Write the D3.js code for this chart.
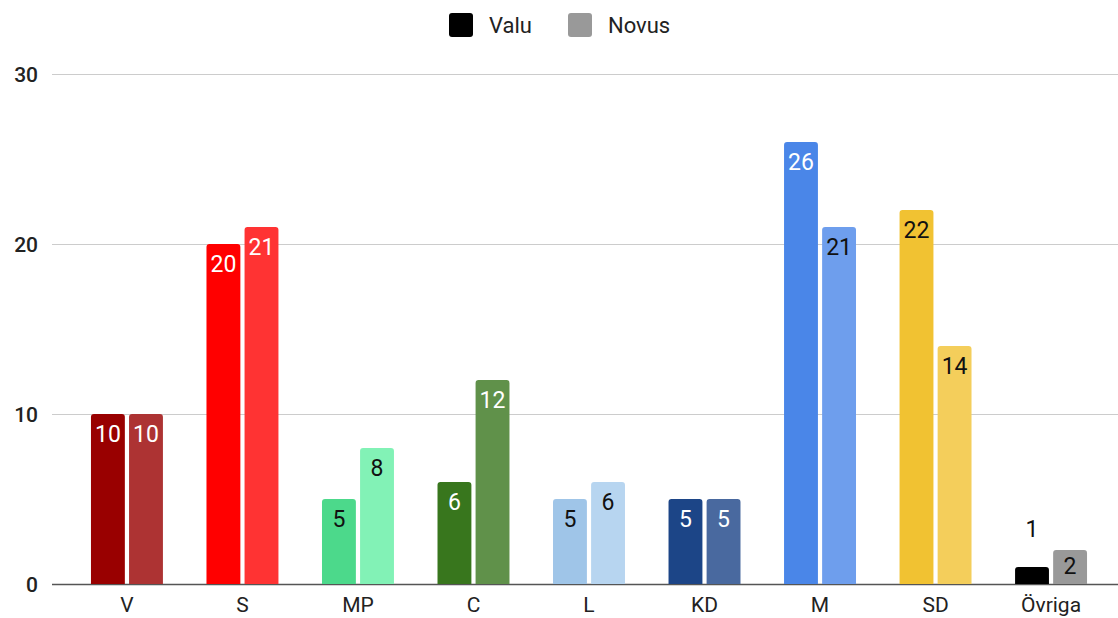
<!DOCTYPE html>
<html>
<head>
<meta charset="utf-8">
<script src="https://cdn.jsdelivr.net/npm/d3@7"></script>
<style>
  body { margin: 0; background: #fff; }
  text { font-family: Roboto, "Liberation Sans", Arial, sans-serif; }
</style>
</head>
<body>
<svg id="chart" width="1118" height="618"></svg>
<script>
// data
var parties = ["V", "S", "MP", "C", "L", "KD", "M", "SD", "Övriga"];
var seriesNames = ["Valu", "Novus"];
var valu  = [10, 20, 5, 6, 5, 5, 26, 22, 1];
var novus = [10, 21, 8, 12, 6, 5, 21, 14, 2];
var yTicks = [0, 10, 20, 30];

// styles
var valuColors  = ["#990000", "#ff0000", "#4cd98b", "#38761d", "#9fc5e8", "#1c4587", "#4a86e8", "#f1c232", "#000000"];
var novusColors = ["#ad3333", "#ff3333", "#82f2b6", "#60914a", "#b7d5f0", "#49699f", "#6e9eed", "#f4ce5b", "#999999"];
var valuText  = ["#fff", "#fff", "#111", "#fff", "#111", "#fff", "#fff", "#111", "#111"];
var novusText = ["#fff", "#fff", "#111", "#fff", "#111", "#fff", "#111", "#111", "#111"];

var svg = d3.select("#chart");

var x = d3.scaleBand()
    .domain(parties)
    .range([69.25, 1108.75])
    .paddingInner(0.377)
    .paddingOuter(0.188);

var x1 = d3.scaleBand()
    .domain(seriesNames)
    .range([0, x.bandwidth()])
    .paddingInner(0.11);

var y = d3.scaleLinear()
    .domain([0, 30])
    .range([584, 74]);

// grid
svg.append("g")
  .selectAll("line")
  .data(yTicks)
  .join("line")
    .attr("x1", 52)
    .attr("x2", 1118)
    .attr("y1", function(d) { return Math.round(y(d)) + 0.5; })
    .attr("y2", function(d) { return Math.round(y(d)) + 0.5; })
    .attr("stroke", function(d) { return d === 0 ? "#555" : "#cccccc"; })
    .attr("stroke-width", function(d) { return d === 0 ? 1.5 : 1.2; });

var yAxis = d3.axisLeft(y).tickValues(yTicks).tickSize(0).tickPadding(0);
var ya = svg.append("g")
    .attr("transform", "translate(38,0)")
    .call(yAxis);
ya.select(".domain").remove();
ya.selectAll("text")
    .attr("font-size", 21)
    .attr("fill", "#222")
    .attr("font-weight", 500)
    .attr("dy", "0.36em");

var xAxis = d3.axisBottom(x).tickSize(0).tickPadding(0);
var xa = svg.append("g")
    .attr("transform", "translate(0,584)")
    .call(xAxis);
xa.select(".domain").remove();
xa.selectAll("text")
    .attr("font-size", 21)
    .attr("fill", "#222")
    .attr("y", 28)
    .attr("dy", 0);

function barPath(x0, w, top, bottom) {
  var r = Math.min(3, (bottom - top) / 2);
  return "M" + x0 + "," + bottom +
    "V" + (top + r) +
    "Q" + x0 + "," + top + " " + (x0 + r) + "," + top +
    "H" + (x0 + w - r) +
    "Q" + (x0 + w) + "," + top + " " + (x0 + w) + "," + (top + r) +
    "V" + bottom + "Z";
}

var rows = [];
parties.forEach(function(p, i) {
  rows.push({party: p, series: "Valu", value: valu[i], color: valuColors[i], tc: valuText[i]});
  rows.push({party: p, series: "Novus", value: novus[i], color: novusColors[i], tc: novusText[i]});
});

var bars = svg.append("g").selectAll("g")
  .data(rows)
  .join("g");

bars.append("path")
    .attr("fill", function(d) { return d.color; })
    .attr("d", function(d) {
      return barPath(x(d.party) + x1(d.series), x1.bandwidth(), y(d.value), y(0));
    });

bars.append("text")
    .attr("text-anchor", "middle")
    .attr("font-size", 23)
    .attr("x", function(d) { return x(d.party) + x1(d.series) + x1.bandwidth() / 2; })
    .attr("y", function(d) {
      var h = y(0) - y(d.value);
      if (h < 25) return y(d.value) - 30;
      return Math.min(y(d.value) + 28, y(0) - 10);
    })
    .attr("fill", function(d) {
      return (y(0) - y(d.value)) < 25 ? "#111" : d.tc;
    })
    .text(function(d) { return d.value; });

// legend
var legendColors = ["#000000", "#999999"];
var legendX = [449, 568];
var lg = svg.append("g").selectAll("g")
  .data(seriesNames)
  .join("g")
    .attr("transform", function(d, i) { return "translate(" + legendX[i] + ",13)"; });
lg.append("rect")
    .attr("width", 24)
    .attr("height", 24)
    .attr("rx", 3)
    .attr("fill", function(d, i) { return legendColors[i]; });
lg.append("text")
    .attr("x", 40)
    .attr("y", 20)
    .attr("font-size", 22)
    .attr("fill", "#222")
    .text(function(d) { return d; });
</script>
</body>
</html>
